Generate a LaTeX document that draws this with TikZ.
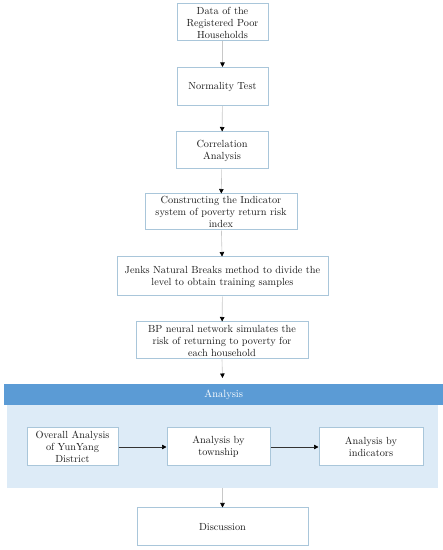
\documentclass[tikz,border=0pt]{standalone}
\usetikzlibrary{arrows.meta}
\definecolor{boxline}{HTML}{A9C6DA}
\definecolor{conn}{HTML}{C8C8C8}
\definecolor{headblue}{HTML}{5B9BD5}
\definecolor{panelblue}{HTML}{DDEBF7}
\definecolor{txt}{HTML}{1A1A1A}
\begin{document}
\begin{tikzpicture}[x=1pt,y=1pt,
  stepbox/.style={draw=boxline, line width=1pt, fill=white, text=txt, align=center,
    inner sep=1pt, font=\fontsize{10.3}{12}\selectfont},
  flow/.style={draw=conn, line width=0.6pt, -{Triangle[black,width=4.5pt,length=4.5pt]}},
  hflow/.style={draw=black!80, line width=0.7pt, -{Triangle[black,width=4.5pt,length=4.5pt]}}]
\useasboundingbox (0,0) rectangle (443,550);
% panel
\node[fill=panelblue, minimum width=431, minimum height=83, inner sep=0, anchor=north west] (panel) at (7,145) {};
\node[fill=headblue, minimum width=439, minimum height=21, inner sep=0, anchor=north west, text=white,
  font=\fontsize{10.5}{12}\selectfont] (head) at (4,166) {Analysis};
% boxes
\node[stepbox, minimum width=91, minimum height=37] (b1) at (222.5,527.5) {Data of the\\Registered Poor\\Households};
\node[stepbox, minimum width=91, minimum height=38] (b2) at (222.5,463.5) {Normality Test};
\node[stepbox, minimum width=92, minimum height=37] (b3) at (222,399.5) {Correlation\\Analysis};
\node[stepbox, minimum width=152, minimum height=36] (b4) at (221,338) {Constructing the Indicator\\system of poverty return risk\\index};
\node[stepbox, minimum width=211, minimum height=39] (b5) at (222.5,273.5) {Jenks Natural Breaks method to divide the\\level to obtain training samples};
\node[stepbox, minimum width=172, minimum height=37] (b6) at (222,209.5) {BP neural network simulates the\\risk of returning to poverty for\\each household};
\node[stepbox, minimum width=91, minimum height=38] (a1) at (72.5,103) {Overall Analysis\\of YunYang\\District};
\node[stepbox, minimum width=103, minimum height=38] (a2) at (218.5,103) {Analysis by\\township};
\node[stepbox, minimum width=104, minimum height=38] (a3) at (371,103) {Analysis by\\indicators};
\node[stepbox, minimum width=171, minimum height=38] (d) at (222.5,23) {Discussion};
% connectors
\draw[flow] (b1) -- (b2);
\draw[flow] (b2) -- (b3);
\draw[flow] (b3) -- (b4);
\draw[flow] (b4) -- (b5);
\draw[flow] (b5) -- (b6);
\coordinate (ht) at (222.5,172);
\draw[flow] (b6.south) -- (ht);
\coordinate (pb) at (222.5,62);
\draw[flow] (pb) -- (d.north);
\draw[hflow] (a1) -- (a2);
\draw[hflow] (a2) -- (a3);
\end{tikzpicture}
\end{document}
